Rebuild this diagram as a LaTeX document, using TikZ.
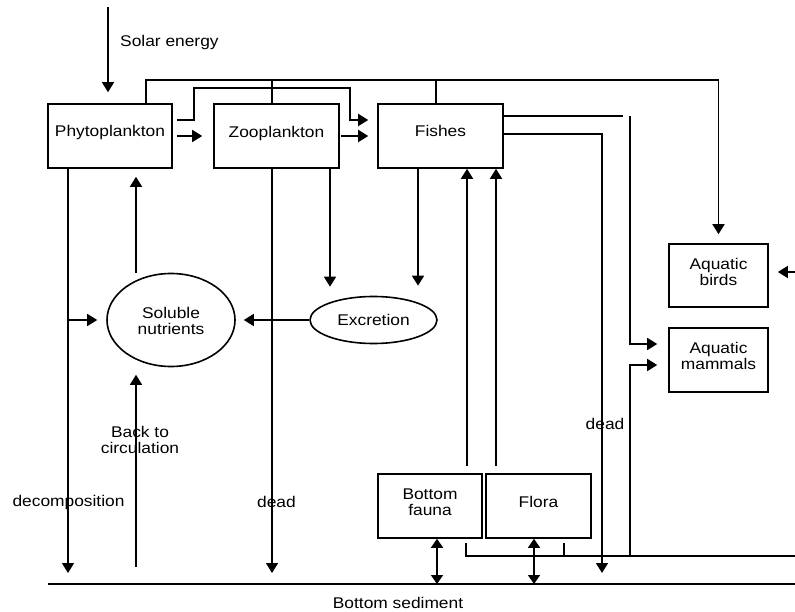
\documentclass[tikz,border=0pt]{standalone}
\usepackage{fontspec}
\setmainfont{Liberation Sans}[FakeStretch=1.12]
\usetikzlibrary{arrows.meta,shapes.geometric}

\tikzset{
  every picture/.style={x=1pt,y=-1pt},
  flow/.style={line width=1.6pt},
  arr/.style={flow,-{Triangle[length=10pt,width=12pt]}},
  dbl/.style={flow,{Triangle[length=9pt,width=12pt]}-{Triangle[length=9pt,width=12pt]}},
  box/.style={draw,line width=1.6pt,rectangle,inner sep=0pt},
  oval/.style={draw,line width=1.6pt,ellipse,inner sep=0pt},
  txt/.style={font=\fontsize{15.5}{16}\selectfont,align=center,inner sep=0pt},
}

\begin{document}
\begin{tikzpicture}
\useasboundingbox (0,0) rectangle (795,612);

% compartments
\node[box,minimum width=124pt,minimum height=64pt,label={[txt,yshift=4pt]center:Phytoplankton}] (phyto) at (110,136) {};
\node[box,minimum width=125pt,minimum height=64pt,label={[txt,yshift=3pt]center:Zooplankton}] (zoo) at (276.5,136) {};
\node[box,minimum width=125pt,minimum height=64pt,label={[txt,yshift=5pt]center:Fishes}] (fishes) at (440.5,136) {};
\node[box,minimum width=99pt,minimum height=63pt,label={[txt,yshift=4pt]center:Aquatic\\birds}] (birds) at (718.5,275.5) {};
\node[box,minimum width=99pt,minimum height=64pt,label={[txt,yshift=4pt]center:Aquatic\\mammals}] (mammals) at (718.5,360) {};
\node[box,minimum width=104pt,minimum height=64pt,label={[txt,yshift=4pt]center:Bottom\\fauna}] (fauna) at (430,506) {};
\node[box,minimum width=105pt,minimum height=64pt,label={[txt,yshift=4pt]center:Flora}] (flora) at (538.5,506) {};
\node[oval,minimum width=128pt,minimum height=93pt,label={[txt,yshift=-1pt]center:Soluble\\nutrients}] (soluble) at (171,320) {};
\node[oval,minimum width=127pt,minimum height=47pt,label={[txt]center:Excretion}] (excr) at (373.5,320) {};

% free labels
\node[txt,anchor=west] (solartxt) at (120,42) {Solar energy};
\node[txt] (backtxt) at (140,440) {Back to\\circulation};
\node[txt] (decotxt) at (68.5,502) {decomposition};
\node[txt] (deadtxt) at (276.5,502) {dead};
\node[txt] (deadtxt2) at (605,424) {dead};
\node[txt] (sedtxt) at (398,603) {Bottom sediment};

% reference coordinates
\coordinate (sun) at (108,7);
\coordinate (top) at (0,80);
\coordinate (loop) at (350,88);
\coordinate (sedL) at (48,584);
\coordinate (sedR) at (795,584);
\coordinate (edge) at (795,272);
\coordinate (fishend) at (623,116);
\coordinate (mamcol) at (630,116);
\coordinate (mamfoot) at (630,556);
\coordinate (floorR) at (795,556);
\coordinate (circ) at (136,567);
\coordinate (deadend) at (602,573);

% bottom sediment
\draw[flow] (sedL) -- (sedR);

% solar input
\draw[arr,shorten >=11pt] (sun) -- (sun |- phyto.north);

% phytoplankton feeding lines at the top
\draw[arr,shorten >=9pt] ([xshift=36pt]phyto.north) |- (top -| birds.north) -- (birds.north);
\draw[flow] ([xshift=-4.5pt]zoo.north) -- ([xshift=-4.5pt]zoo.north |- top);
\draw[flow] ([xshift=-4.5pt]fishes.north) -- ([xshift=-4.5pt]fishes.north |- top);
\draw[arr] ([xshift=4pt,yshift=16pt]phyto.east) -- ++(17,0) |- (loop) |- ([xshift=-9pt,yshift=16pt]fishes.west);

% grazing chain
\draw[arr] ([xshift=4pt]phyto.east) -- ([xshift=-11pt]zoo.west);
\draw[arr] ([xshift=1pt]zoo.east) -- ([xshift=-9pt]fishes.west);

% fishes outputs
\draw[flow] ([yshift=20pt]fishes.east) -- (fishend);
\draw[arr] (mamcol) |- ([xshift=-11pt,yshift=16pt]mammals.west);
\draw[arr] ([yshift=2pt]fishes.east) -| (deadend);
\draw[arr] (mamfoot) |- ([xshift=-11pt,yshift=-5pt]mammals.west);
\draw[arr,shorten >=9pt] (edge) -- (edge -| birds.east);

% bottom connections
\draw[flow] ([xshift=36pt,yshift=-4pt]fauna.south) |- (floorR);
\draw[flow] ([xshift=25.5pt,yshift=-4pt]flora.south) -- ++(0,14);
\draw[dbl] ([xshift=7pt]fauna.south) -- ([xshift=7pt]fauna.south |- sedL);
\draw[dbl] ([xshift=-4.5pt]flora.south) -- ([xshift=-4.5pt]flora.south |- sedL);
\draw[arr] ([xshift=37pt,yshift=7pt]fauna.north) -- ([xshift=37pt]fauna.north |- fishes.south);
\draw[arr] ([xshift=-42.5pt,yshift=7pt]flora.north) -- ([xshift=-42.5pt]flora.north |- fishes.south);

% excretion
\draw[arr,shorten >=10pt] ([xshift=-22.5pt]fishes.south) -- ([xshift=-22.5pt]fishes.south |- excr.north);
\draw[arr,shorten >=9pt] ([xshift=53.5pt]zoo.south) -- ([xshift=53.5pt]zoo.south |- excr.north);
\draw[arr,shorten >=8pt] (excr.west) -- (soluble.east);

% dead matter and decomposition
\draw[arr,shorten >=11pt] ([xshift=-4.5pt]zoo.south) -- ([xshift=-4.5pt]zoo.south |- sedL);
\draw[arr,shorten >=11pt] ([xshift=-42pt]phyto.south) -- ([xshift=-42pt]phyto.south |- sedL);
\draw[arr,shorten >=9pt] ([xshift=-42pt]phyto.south |- soluble.west) -- (soluble.west);

% nutrient recycling
\draw[arr,shorten >=8pt] ([xshift=26pt]phyto.south |- soluble.north) -- ([xshift=26pt]phyto.south);
\draw[arr,shorten >=7.5pt] (circ) -- (circ |- soluble.south);
\end{tikzpicture}
\end{document}
